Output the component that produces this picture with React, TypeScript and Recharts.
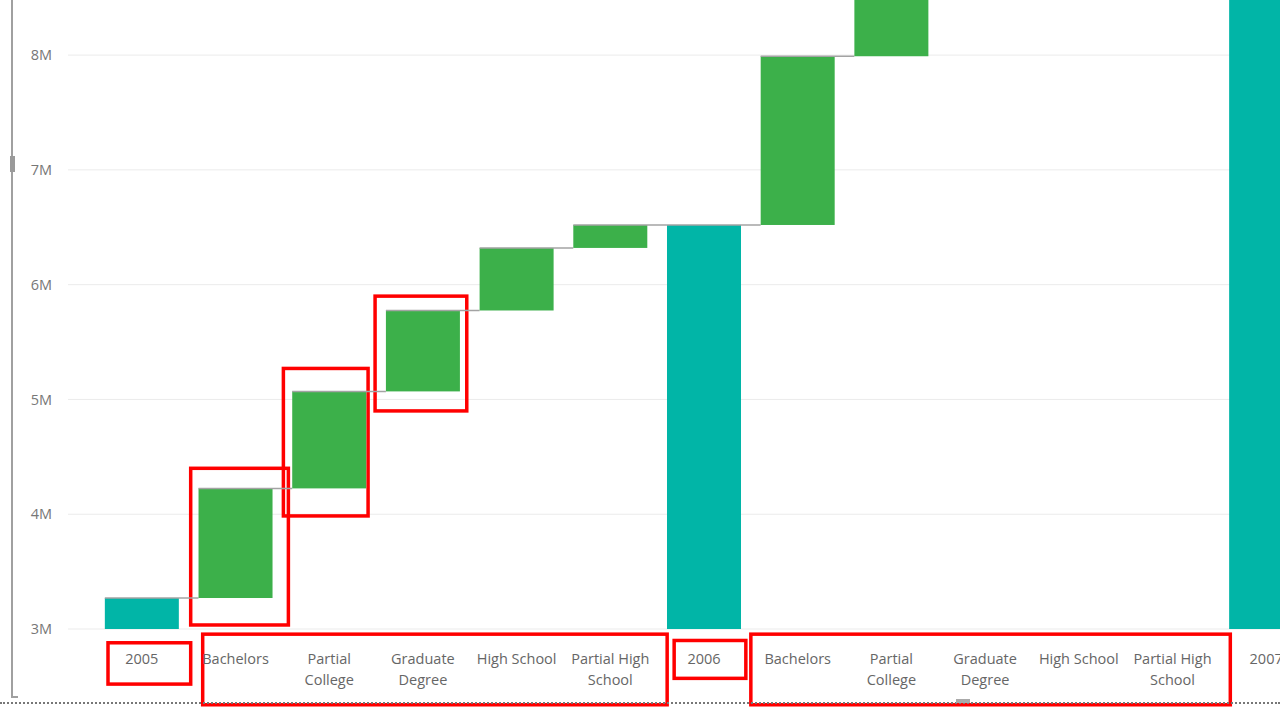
import React from 'react';
import {
  BarChart,
  Bar,
  XAxis,
  YAxis,
  CartesianGrid,
  Cell,
  ReferenceArea,
  Text,
} from 'recharts';

// values
const years = ['2005', '2006', '2007'];
const educationLevels = [
  'Bachelors',
  'Partial College',
  'Graduate Degree',
  'High School',
  'Partial High School',
];
const openingTotal = 3270000;
const changes2005 = [955000, 845000, 705000, 545000, 200000];
const changes2006 = [1470000, 1300000, 1120000, 870000, 310000];
const yTicks = [3000000, 4000000, 5000000, 6000000, 7000000, 8000000];

const TOTAL_COLOR = '#01B5A7';
const INCREASE_COLOR = '#3CB04A';
const CONNECTOR_COLOR = '#a3a3a3';
const FONT = '"Segoe UI", "Open Sans", sans-serif';
const GAP = 0.105; // barCategoryGap, each side

type Row = { key: string; label: string; range: [number, number]; kind: 'total' | 'increase' };

const buildRows = (): Row[] => {
  const rows: Row[] = [];
  const changeSets = [changes2005, changes2006];
  let running = openingTotal;
  years.forEach((year, i) => {
    rows.push({ key: year, label: year, range: [0, running], kind: 'total' });
    const changes = changeSets[i];
    if (!changes) return;
    educationLevels.forEach((level, j) => {
      const start = running;
      running += changes[j];
      rows.push({ key: `${year}|${level}`, label: level, range: [start, running], kind: 'increase' });
    });
  });
  return rows;
};

const rows = buildRows();
const labelByKey: Record<string, string> = Object.fromEntries(rows.map((r) => [r.key, r.label]));

// hand-drawn red highlight boxes from the screenshot (category keys + value units,
// with a small left/right nudge since they were drawn by hand)
const highlightBoxes = [
  { x1: '2005|Bachelors', x2: '2005|Bachelors', y1: 3035000, y2: 4400000, nudge: [2, 6] },
  { x1: '2005|Partial College', x2: '2005|Partial College', y1: 3985000, y2: 5270000, nudge: [1, -8] },
  { x1: '2005|Graduate Degree', x2: '2005|Graduate Degree', y1: 4900000, y2: 5900000, nudge: [-1, -3] },
  { x1: '2005', x2: '2005', y1: 2520000, y2: 2880000, nudge: [13, 2] },
  { x1: '2005|Bachelors', x2: '2005|Partial High School', y1: 2340000, y2: 2955000, nudge: [14, 10] },
  { x1: '2006', x2: '2006', y1: 2570000, y2: 2900000, nudge: [17, -5] },
  { x1: '2006|Bachelors', x2: '2006|Partial High School', y1: 2340000, y2: 2955000, nudge: [0, 11] },
];

const WaterfallShape = (props: any) => {
  const { x, y, width, height, fill, index } = props;
  const top = Math.min(y, y + height);
  const h = Math.abs(height);
  const gap = (width * 2 * GAP) / (1 - 2 * GAP);
  return (
    <g>
      <rect x={x} y={top} width={width} height={h} fill={fill} />
      {index < rows.length - 1 && (
        <line x1={x} x2={x + width + gap} y1={top} y2={top} stroke={CONNECTOR_COLOR} strokeWidth={1.5} />
      )}
    </g>
  );
};

const boxShape = (nudge: number[]) => (props: any) => {
  const { x, y, width, height } = props;
  return (
    <rect
      x={x + nudge[0]}
      y={y}
      width={width - nudge[0] + nudge[1]}
      height={height}
      fill="none"
      stroke="#ff0000"
      strokeWidth={3.5}
    />
  );
};

const EducationTick = ({ x, y, payload }: any) => (
  <Text
    x={x}
    y={y + 17}
    width={92}
    textAnchor="middle"
    verticalAnchor="start"
    lineHeight={21}
    fill="#666"
    style={{ fontFamily: FONT, fontSize: 14.5 }}
  >
    {labelByKey[payload.value]}
  </Text>
);

export default function App() {
  return (
    <div
      style={{
        position: 'fixed',
        left: 0,
        top: 0,
        width: 1280,
        height: 720,
        overflow: 'hidden',
        background: '#fff',
      }}
    >
      <BarChart
        width={1400}
        height={720}
        data={rows}
        margin={{ top: 0, right: 0, left: 0, bottom: 0 }}
        barCategoryGap={`${GAP * 100}%`}
      >
        <CartesianGrid vertical={false} stroke="#ebebeb" syncWithTicks />
        <XAxis
          dataKey="key"
          interval={0}
          tick={<EducationTick />}
          tickLine={false}
          axisLine={false}
          height={91}
          padding={{ left: 27, right: 87 }}
        />
        <YAxis
          domain={[3000000, 8480000]}
          allowDataOverflow
          ticks={yTicks}
          tickFormatter={(v: number) => `${v / 1000000}M`}
          tickLine={false}
          axisLine={false}
          width={68}
          tickMargin={10}
          tick={{ fill: '#777', fontSize: 14.5, fontFamily: FONT }}
        />
        <Bar dataKey="range" shape={WaterfallShape} isAnimationActive={false}>
          {rows.map((entry, index) => (
            <Cell key={`cell-${index}`} fill={entry.kind === 'total' ? TOTAL_COLOR : INCREASE_COLOR} />
          ))}
        </Bar>
        {highlightBoxes.map((b, i) => (
          <ReferenceArea
            key={`box-${i}`}
            x1={b.x1}
            x2={b.x2}
            y1={b.y1}
            y2={b.y2}
            ifOverflow="visible"
            shape={boxShape(b.nudge)}
          />
        ))}
      </BarChart>
      {/* editor frame bits around the visual */}
      <div style={{ position: 'absolute', left: 11, top: 0, width: 2, height: 698, background: '#a0a0a0' }} />
      <div style={{ position: 'absolute', left: 10, top: 156, width: 5, height: 16, background: '#9a9a9a' }} />
      <div style={{ position: 'absolute', left: 11, top: 696, width: 7, height: 2, background: '#a0a0a0' }} />
      <div style={{ position: 'absolute', left: 0, top: 702, width: 1280, height: 0, borderTop: '2px dotted #777' }} />
      <div style={{ position: 'absolute', left: 956, top: 699, width: 14, height: 4, background: '#aaa' }} />
    </div>
  );
}
